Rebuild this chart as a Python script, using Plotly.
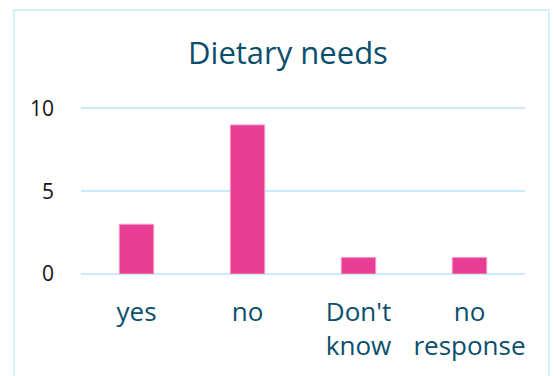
import plotly.graph_objects as go

categories = ["yes", "no", "Don't<br>know", "no<br>response"]
counts = [3, 9, 1, 1]
y_ticks = [0, 5, 10]
title_text = "Dietary needs"

BAR = "#e83e94"
TEAL = "#0b4f6c"
GRID = "#c8ecfa"
FONT = "Open Sans, sans-serif"

fig = go.Figure(
    go.Bar(
        x=categories,
        y=counts,
        marker=dict(color=BAR, line=dict(color="#f59ac4", width=1)),
        hoverinfo="x+y",
    )
)

fig.update_layout(
    width=554,
    height=376,
    margin=dict(l=81, r=29, t=105, b=102),
    paper_bgcolor="white",
    plot_bgcolor="white",
    bargap=0.69,
    showlegend=False,
    font=dict(family=FONT),
    title=dict(
        text=title_text,
        font=dict(family=FONT, size=31, color=TEAL),
        x=288 / 554,
        xanchor="center",
        xref="container",
        y=1 - 53 / 376,
        yanchor="middle",
        yref="container",
    ),
    xaxis=dict(
        showgrid=False,
        showline=False,
        zeroline=False,
        ticks="",
        tickfont=dict(family=FONT, size=26, color=TEAL),
        ticklabelstandoff=20,
    ),
    yaxis=dict(
        range=[0, 10.2],
        tickvals=y_ticks,
        showgrid=True,
        gridcolor=GRID,
        gridwidth=1.5,
        zeroline=True,
        zerolinecolor=GRID,
        zerolinewidth=1.5,
        showline=False,
        ticks="",
        tickfont=dict(family=FONT, size=21, color="#111111"),
        ticklabelstandoff=26,
    ),
    shapes=[
        dict(
            type="rect",
            xref="paper",
            yref="paper",
            x0=(14 - 81) / 444,
            x1=(549 - 81) / 444,
            y0=(274 - 390) / 169,
            y1=(274 - 10) / 169,
            line=dict(color=GRID, width=1.5),
            fillcolor="rgba(0,0,0,0)",
            layer="below",
        )
    ],
)

fig.write_html("out.html")
